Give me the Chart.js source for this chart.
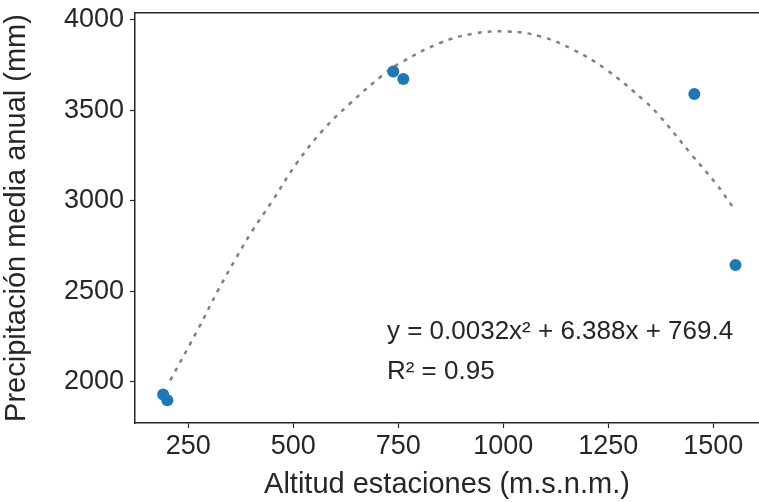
<!DOCTYPE html>
<html>
<head>
<meta charset="utf-8">
<script src="https://cdn.jsdelivr.net/npm/chart.js@4.4.1/dist/chart.umd.min.js"></script>
<style>
  html, body { margin: 0; padding: 0; background: #fff; overflow: hidden; }
  canvas { display: block; }
</style>
</head>
<body>
<canvas id="chart" width="759" height="502"></canvas>
<script>
// stations: altitude (m.s.n.m.) and mean annual precipitation (mm)
var altitudes = [190, 200, 738, 762, 1455, 1553];
var precip = [1929, 1898, 3714, 3672, 3589, 2645];

// trend line
var trendX = [207, 274, 321, 361, 401, 449, 508, 571, 635, 714, 754, 849, 929, 1008, 1088, 1167, 1246, 1338, 1373, 1450, 1508, 1546];
var trendY = [2008, 2294, 2506, 2672, 2829, 2995, 3207, 3391, 3537, 3696, 3760, 3871, 3923, 3935, 3908, 3834, 3723, 3548, 3466, 3250, 3090, 2967];

var xTicks = [250, 500, 750, 1000, 1250, 1500];
var yTicks = [2000, 2500, 3000, 3500, 4000];

var eqLines = ["y = 0.0032x\u00b2 + 6.388x + 769.4", "R\u00b2 = 0.95"];

var fontFam = "'Liberation Sans', Arial, sans-serif";
var ink = "#262626";

var scatterPts = altitudes.map(function (a, i) { return { x: a, y: precip[i] }; });
var trendPts = trendX.map(function (a, i) { return { x: a, y: trendY[i] }; });

// equation text drawn inside the plot
var eqPlugin = {
  id: "eqText",
  afterDatasetsDraw: function (chart, args, opts) {
    var c = chart.ctx;
    var xs = chart.scales.x, ys = chart.scales.y;
    c.save();
    c.fillStyle = ink;
    c.font = "26px " + fontFam;
    c.textBaseline = "middle";
    c.textAlign = "left";
    var px = xs.getPixelForValue(opts.x);
    for (var i = 0; i < eqLines.length; i++) {
      c.fillText(eqLines[i], px, ys.getPixelForValue(opts.y[i]));
    }
    c.restore();
  }
};

function fixTicks(list) {
  return function (scale) {
    scale.ticks = list.map(function (v) { return { value: v }; });
  };
}

// no auto padding from tick labels, the plot box is fixed
function noPad(size, isX) {
  return function (s) {
    if (isX) { s.height = size; } else { s.width = size; }
    s.paddingLeft = 0; s.paddingRight = 0; s.paddingTop = 0; s.paddingBottom = 0;
  };
}

function plain(v) { return String(v); }

new Chart(document.getElementById("chart"), {
  type: "scatter",
  data: {
    datasets: [
      {
        type: "line",
        data: trendPts,
        borderColor: "#808080",
        borderWidth: 2.5,
        borderDash: [4, 6],
        pointRadius: 0,
        fill: false,
        tension: 0.4,
        order: 2
      },
      {
        data: scatterPts,
        backgroundColor: "#1f77b4",
        borderWidth: 0,
        pointRadius: 6,
        order: 1
      }
    ]
  },
  options: {
    responsive: false,
    animation: false,
    layout: { padding: 0, autoPadding: false },
    plugins: {
      legend: { display: false },
      tooltip: { enabled: false },
      eqText: { x: 723, y: [2274, 2053] }
    },
    scales: {
      x: {
        type: "linear",
        min: 123,
        max: 1609,
        afterBuildTicks: fixTicks(xTicks),
        afterFit: noPad(79, true),
        grid: { drawOnChartArea: false, drawTicks: true, tickLength: 5, tickColor: ink, tickWidth: 1.2 },
        border: { display: true, color: ink, width: 1.5 },
        ticks: { color: ink, font: { family: fontFam, size: 27 }, padding: 2, maxRotation: 0, callback: plain },
        title: { display: true, text: "Altitud estaciones (m.s.n.m.)", color: ink, font: { family: fontFam, size: 29 }, padding: { top: 0, bottom: 0 } }
      },
      x2: {
        type: "linear",
        position: "top",
        min: 123,
        max: 1609,
        afterFit: noPad(13, true),
        grid: { drawOnChartArea: false, drawTicks: false },
        border: { display: true, color: ink, width: 1.5 },
        ticks: { display: false }
      },
      y: {
        min: 1772,
        max: 4037,
        afterBuildTicks: fixTicks(yTicks),
        afterFit: noPad(135, false),
        grid: { drawOnChartArea: false, drawTicks: true, tickLength: 5, tickColor: ink, tickWidth: 1.2 },
        border: { display: true, color: ink, width: 1.5 },
        ticks: { color: ink, font: { family: fontFam, size: 27 }, padding: 6, callback: plain },
        title: { display: true, text: "Precipitación media anual (mm)", color: ink, font: { family: fontFam, size: 29 }, padding: { top: 0, bottom: 0 } }
      }
    }
  },
  plugins: [eqPlugin]
});
</script>
</body>
</html>
